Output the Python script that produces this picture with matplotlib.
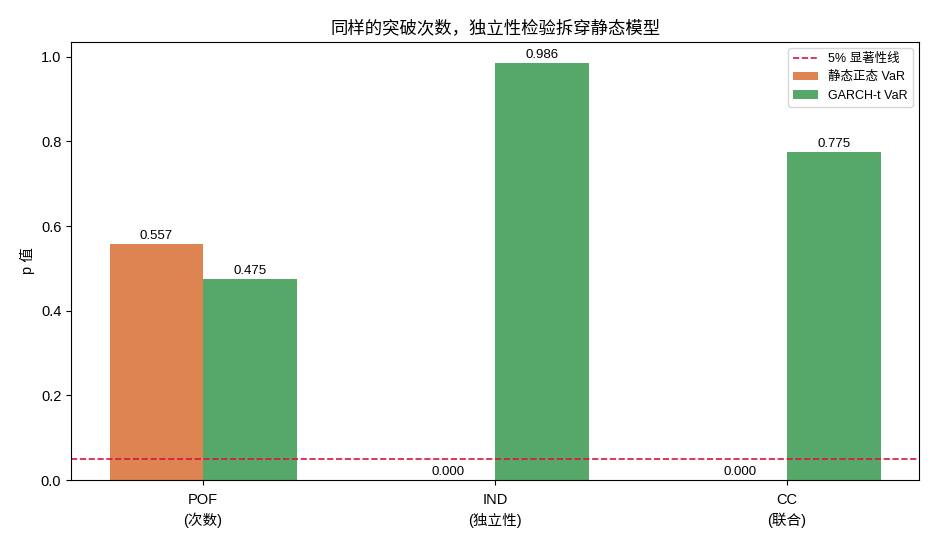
import numpy as np
import matplotlib
matplotlib.use("Agg")
import matplotlib.pyplot as plt

plt.rcParams['font.family'] = ['Liberation Sans', 'Noto Sans CJK SC', 'DejaVu Sans']
plt.rcParams['axes.unicode_minus'] = False

categories = ['POF\n(次数)', 'IND\n(独立性)', 'CC\n(联合)']
static_p = [0.557, 0.000, 0.000]
garch_p = [0.475, 0.986, 0.775]
alpha_line = 0.05

x = np.arange(len(categories))
w = 0.32

fig, ax = plt.subplots(figsize=(9.35, 5.5), dpi=100)
b1 = ax.bar(x - w / 2, static_p, w, color='#dd8452', label='静态正态 VaR')
b2 = ax.bar(x + w / 2, garch_p, w, color='#55a868', label='GARCH-t VaR')
ax.axhline(alpha_line, color='crimson', linestyle='--', linewidth=1.2, label='5% 显著性线')

for bars in (b1, b2):
    for r in bars:
        ax.text(r.get_x() + r.get_width() / 2, r.get_height() + 0.005,
                f'{r.get_height():.3f}', ha='center', va='bottom', fontsize=9.5)

ax.set_xticks(x)
ax.set_xticklabels(categories, fontsize=10.5, linespacing=1.45)
ax.tick_params(axis='x', pad=6)
ax.tick_params(axis='y', labelsize=10.5)
ax.set_ylabel('p 值', fontsize=10.5)
ax.set_title('同样的突破次数，独立性检验拆穿静态模型', fontsize=12.5)
ax.legend(loc='upper right', fontsize=9)

plt.subplots_adjust(left=0.076, right=0.983, top=0.924, bottom=0.127)
plt.savefig('out.png', dpi=100)
